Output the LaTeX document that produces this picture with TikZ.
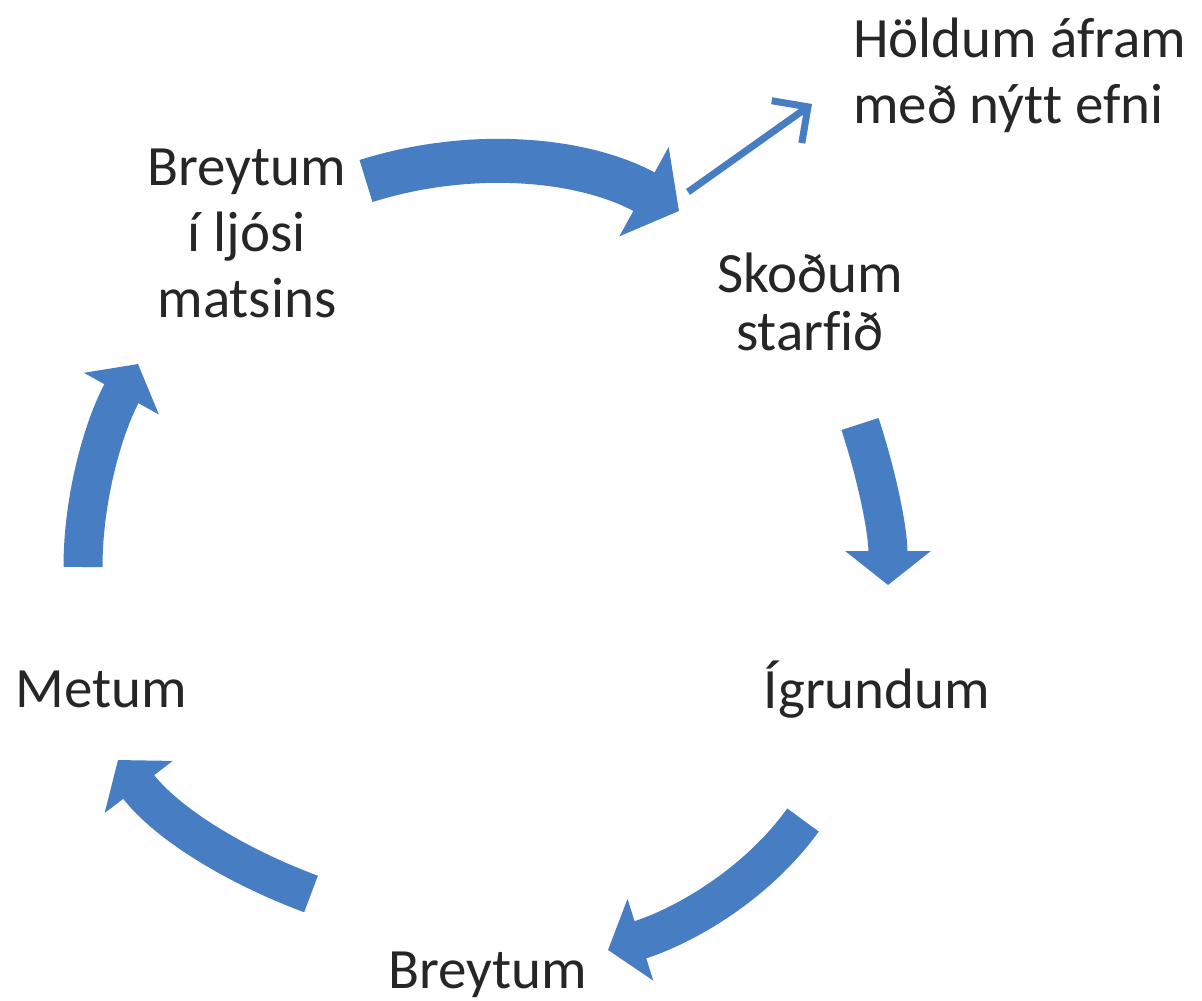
\documentclass[tikz,border=0pt]{standalone}
\usepackage{fontspec}
\setmainfont{Carlito}[Ligatures=CommonOff]
\usetikzlibrary{arrows.meta}
\definecolor{cyc}{RGB}{70,125,195}
\begin{document}
\begin{tikzpicture}[x=1pt,y=-1pt,
  lbl/.style={font=\fontsize{57}{66}\selectfont, inner sep=0pt, text=black!85, align=center},
  cycarrow/.style={draw=cyc, line width=39pt, -{Triangle[width=84pt,length=34pt]}},
  bigarrow/.style={draw=cyc, line width=44pt, -{Triangle[width=100pt,length=40pt]}},
  thinarrow/.style={draw=cyc, line width=7pt, -{Straight Barb[length=26pt,width=52pt,line width=7pt]}}]
\useasboundingbox (0,0) rectangle (1202,1001);
\fill[white] (0,0) rectangle (1202,1001);

% labels (anchor=base is the baseline of the last line)
\node[lbl, anchor=base] (top) at (247,317) {Breytum\\í ljósi\\matsins};
\node[lbl, anchor=base, font=\fontsize{57}{58}\selectfont] (skod) at (810,350) {Skoðum\\starfið};
\node[lbl, anchor=base west, align=left] (hold) at (853,123) {Höldum áfram\\með nýtt efni};
\node[lbl, anchor=base] (igr) at (877,708) {Ígrundum};
\node[lbl, anchor=base] (bre) at (488,988) {Breytum};
\node[lbl, anchor=base] (met) at (101,707) {Metum};

% arrow ends
\coordinate (a1s) at (366,181);  \coordinate (a1e) at (679,211);
\coordinate (a2s) at (860,424);  \coordinate (a2e) at (888,585);
\coordinate (a3s) at (803,820);  \coordinate (a3e) at (608,950);
\coordinate (a4s) at (311,894);  \coordinate (a4e) at (118,760);
\coordinate (a5s) at (83,567);   \coordinate (a5e) at (138,364);
\coordinate (a6s) at (688,192);  \coordinate (a6e) at (812,104);

\draw[bigarrow] (a1s) .. controls (471,148) and (583,158) .. (a1e);
\draw[cycarrow] (a2s) .. controls (877,476) and (888,530) .. (a2e);
\draw[cycarrow] (a3s) .. controls (756,885) and (684,926) .. (a3e);
\draw[cycarrow] (a4s) .. controls (236,866) and (167,824) .. (a4e);
\draw[cycarrow] (a5s) .. controls (83,497) and (104,425) .. (a5e);
\draw[thinarrow] (a6s) -- (a6e);
\end{tikzpicture}
\end{document}
